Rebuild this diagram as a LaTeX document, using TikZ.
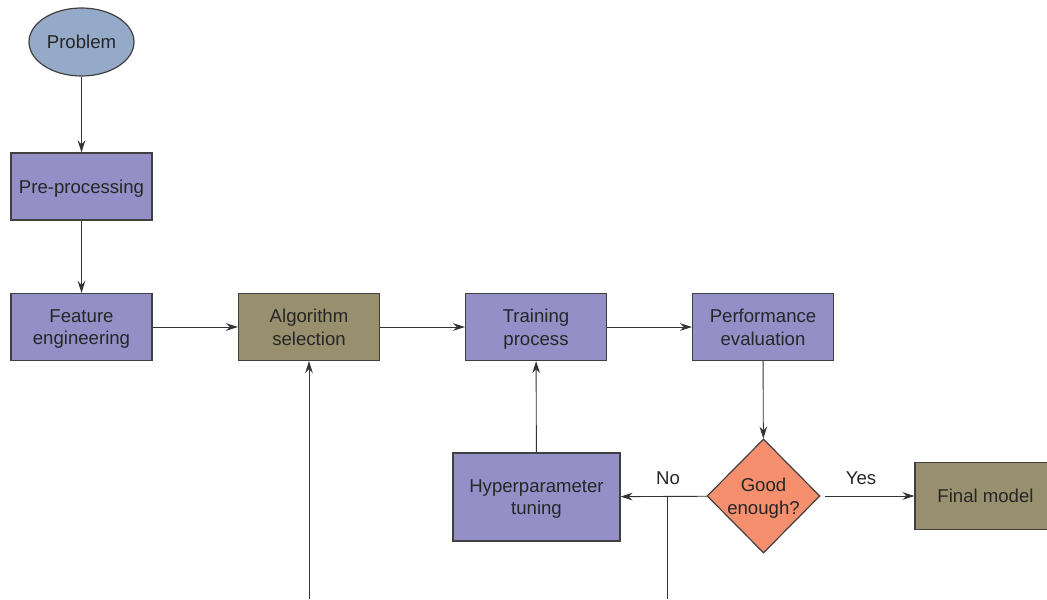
\documentclass[tikz,border=0pt]{standalone}
\usepackage{fontspec}
\setmainfont{Liberation Sans}
\usetikzlibrary{shapes.geometric,arrows.meta}
\definecolor{startblue}{RGB}{149,170,200}
\definecolor{steppurple}{RGB}{149,143,199}
\definecolor{pickolive}{RGB}{151,143,110}
\definecolor{asksalmon}{RGB}{245,143,110}
\begin{document}
\begin{tikzpicture}[x=.5pt,y=-.5pt,
        every node/.style={font=\fontsize{9.3}{11.3}\selectfont,text=black!85},
        stepbox/.style={rectangle,draw=black!75,line width=.6pt,fill=steppurple,minimum width=70.5pt,minimum height=33.5pt,align=center,inner sep=1pt,text depth=0pt},
        pickbox/.style={stepbox,fill=pickolive},
        flow/.style={-{Stealth[length=6pt,width=3.8pt,inset=2pt]},line width=.45pt,black!80}]
        \useasboundingbox (0,0) rectangle (1047,599);

        \node[ellipse,draw=black!75,line width=.6pt,fill=startblue,minimum width=52.5pt,minimum height=34pt,inner sep=0pt] (prob) at (81.5,42) {Problem};
        \node[stepbox] (pre) at (81.5,186.5) {Pre-processing};
        \node[stepbox] (feat) at (81.5,327) {Feature\\engineering};
        \node[pickbox] (algo) at (309,327) {Algorithm\\selection};
        \node[stepbox] (train) at (536,327) {Training\\process};
        \node[stepbox] (perf) at (763,327) {Performance\\evaluation};
        \node[diamond,aspect=1,draw=black!75,line width=.6pt,fill=asksalmon,minimum width=56.5pt,minimum height=57pt,inner sep=-3pt,align=center,text depth=0pt] (good) at (763.5,496) {Good\\enough?};
        \node[stepbox,minimum width=83.5pt,minimum height=44pt] (hyp) at (536.5,497) {Hyperparameter\\tuning};
        \node[pickbox] (final) at (985.5,496) {Final model};

        \node (noLbl) at (668,478) {No};
        \node (yesLbl) at (861,478) {Yes};

        \coordinate (split) at (667,496);
        \coordinate (splitEnd) at (667,599);
        \coordinate (algoIn) at (309,599);

        \foreach \a/\b in {prob/pre, pre/feat, feat/algo, algo/train, train/perf, perf/good, good/hyp, hyp/train}
            \draw[flow] (\a) -- (\b);
        \draw[flow] ([xshift=2pt]good.east) -- (final);
        \draw[flow] (algoIn) -- (algo);
        \draw[line width=.45pt,black!80] (split) -- (splitEnd);
\end{tikzpicture}
\end{document}
